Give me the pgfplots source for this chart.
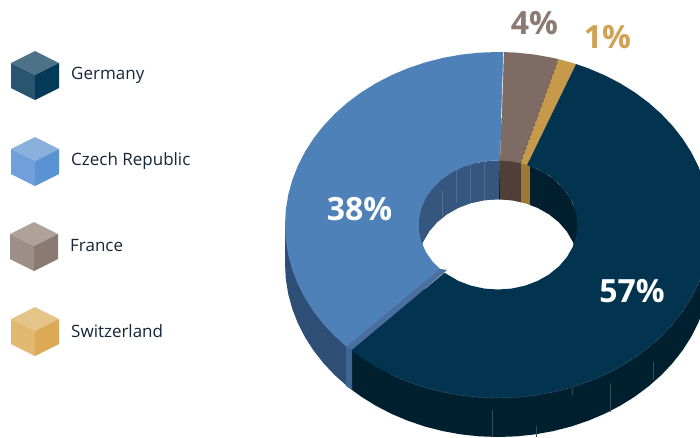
\documentclass[border=0pt]{standalone}
\usepackage{fontspec}
\setmainfont{Open Sans}
\usepackage{pgfplots}
\pgfplotsset{compat=1.18}
\definecolor{bluetop}{HTML}{4F81B9}
\definecolor{navytop}{HTML}{02344F}
\definecolor{browntop}{HTML}{7E6C64}
\definecolor{goldtop}{HTML}{C69A4A}
\definecolor{bluewall}{HTML}{2E4E76}
\definecolor{navywall}{HTML}{00202F}
\definecolor{blueinner}{HTML}{34567F}
\definecolor{browninner}{HTML}{4F3F38}
\definecolor{goldinner}{HTML}{9C7A36}
\definecolor{navyinner}{HTML}{011F2E}
\definecolor{stripA}{HTML}{4B6F9F}
\definecolor{stripB}{HTML}{3F6594}
\definecolor{lbl}{HTML}{15253A}
\definecolor{cgt}{HTML}{4D7186}
\definecolor{cgl}{HTML}{2A5570}
\definecolor{cgr}{HTML}{023A58}
\definecolor{cbt}{HTML}{8AB0DD}
\definecolor{cbl}{HTML}{70A0DA}
\definecolor{cbr}{HTML}{5A93D3}
\definecolor{cft}{HTML}{AEA29B}
\definecolor{cfl}{HTML}{9D8F88}
\definecolor{cfr}{HTML}{8B7A72}
\definecolor{cst}{HTML}{E5C48A}
\definecolor{csl}{HTML}{E0B870}
\definecolor{csr}{HTML}{DCA954}
\begin{document}
\begin{tikzpicture}
\useasboundingbox (0,0) rectangle (700pt,437pt);
% ---------- donut: x=(px-498)/213, y=(225-py)/173, polar data in these units
\begin{axis}[at={(0,0)},anchor=south west,scale only axis,width=700pt,height=437pt,
  hide axis,xmin=-2.338,xmax=0.9484,ymin=-1.2254,ymax=1.3006,clip=true]
% outer walls (bottom ellipse, shifted)
\addplot[fill=bluewall,draw=none,data cs=polar,yshift=-39pt] coordinates {(0,0)(100,1)(105,1)(110,1)(115,1)(120,1)(125,1)(130,1)(135,1)(140,1)(145,1)(150,1)(155,1)(160,1)(165,1)(170,1)(175,1)(180,1)(185,1)(190,1)(195,1)(200,1)(205,1)(210,1)(215,1)(220,1)(225,1)};
\addplot[fill=bluewall,draw=none] coordinates {(-1,0)(-1,-.2254)(-.8,-.2254)(-.8,0)};
\addplot[fill=navywall,draw=none,data cs=polar,yshift=-39pt] coordinates {(0,0)(226.5,1)(230,1)(235,1)(240,1)(245,1)(250,1)(255,1)(260,1)(265,1)(270,1)(275,1)(280,1)(285,1)(290,1)(295,1)(300,1)(305,1)(310,1)(315,1)(320,1)(325,1)(330,1)(335,1)(340,1)(345,1)(350,1)(355,1)(360,1)(365,1)(370,1)(375,1)(380,1)(385,1)(390,1)(395,1)(400,1)};
\addplot[fill=navywall,draw=none] coordinates {(-.6854,-.7225)(-.6854,-.95)(-.4,-1.0)(-.4,-.5)};
\addplot[fill=stripB,draw=none] coordinates {(-.7136,-.7052)(-.6854,-.7225)(-.6854,-.9538)(-.7136,-.9306)};
% faint seams on the navy wall
\addplot[draw=navywall!80!white,line width=.5pt] coordinates {(.526,-.913)(.526,-1.081)};
\addplot[draw=navywall!80!white,line width=.5pt] coordinates {(.728,-.792)(.728,-.896)};
\addplot[draw=navywall!80!white,line width=.5pt] coordinates {(.178,-1.162)(.178,-1.225)};
\addplot[draw=navywall!80!white,line width=.5pt] coordinates {(.347,-.942)(.347,-.983)};
\addplot[draw=navywall!80!white,line width=.5pt] coordinates {(-.028,-1.069)(-.028,-1.225)};
% inner wall, seen through the hole
\addplot[fill=navyinner,draw=none,data cs=polar] coordinates {(0,0)(-135,.373)(-125,.373)(-115,.373)(-105,.373)(-95,.373)(-85,.373)(-75,.373)(-65,.373)(-55,.373)(-45,.373)(-35,.373)(-25,.373)(-15,.373)(-5,.373)(5,.373)(15,.373)(25,.373)(35,.373)(45,.373)(55,.373)(65,.373)(75,.373)(85,.373)(90,.373)};
\addplot[fill=blueinner,draw=none,data cs=polar] coordinates {(0,0)(88.5,.373)(95,.373)(105,.373)(115,.373)(125,.373)(135,.373)(145,.373)(155,.373)(165,.373)(175,.373)(185,.373)(195,.373)(205,.373)(215,.373)(225,.373)};
\addplot[fill=browninner,draw=none] coordinates {(.0094,0)(.108,0)(.108,.40)(.0094,.40)};
\addplot[fill=goldinner,draw=none] coordinates {(.108,0)(.1502,0)(.1502,.40)(.108,.40)};
\addplot[draw=blueinner!85!white,line width=.5pt] coordinates {(-.263,.2)(-.263,.05)};
\addplot[draw=blueinner!85!white,line width=.5pt] coordinates {(-.197,.38)(-.197,.13)};
\addplot[draw=blueinner!85!white,line width=.5pt] coordinates {(-.131,.38)(-.131,.14)};
\addplot[draw=blueinner!85!white,line width=.5pt] coordinates {(-.0657,.38)(-.0657,.14)};
% the opening: lower edge of the hole
\addplot[fill=white,draw=none,data cs=polar,yshift=-39pt] coordinates {(0,.373)(10,.373)(20,.373)(30,.373)(40,.373)(50,.373)(60,.373)(70,.373)(80,.373)(90,.373)(100,.373)(110,.373)(120,.373)(130,.373)(140,.373)(150,.373)(160,.373)(170,.373)(180,.373)(190,.373)(200,.373)(210,.373)(220,.373)(230,.373)(240,.373)(250,.373)(260,.373)(270,.373)(280,.373)(290,.373)(300,.373)(310,.373)(320,.373)(330,.373)(340,.373)(350,.373)};
% top faces: 38 %, 4 %, 1 %, 57 %
\addplot[fill=bluetop,draw=none,data cs=polar] coordinates {(88.5,1)(90,1)(95,1)(100,1)(105,1)(110,1)(115,1)(120,1)(125,1)(130,1)(135,1)(140,1)(145,1)(150,1)(155,1)(160,1)(165,1)(170,1)(175,1)(180,1)(185,1)(190,1)(195,1)(200,1)(205,1)(210,1)(215,1)(220,1)(225,1)(225,.373)(215,.373)(205,.373)(195,.373)(185,.373)(175,.373)(165,.373)(155,.373)(145,.373)(135,.373)(125,.373)(115,.373)(105,.373)(95,.373)(88.5,.373)};
\addplot[fill=stripA,draw=none] coordinates {(-.7136,-.7052)(-.6854,-.7225)(-.2394,-.26)(-.2723,-.2543)};
\addplot[fill=browntop,draw=none,data cs=polar] coordinates {(88.5,1)(85,1)(80,1)(75,1)(73.5,1)(73.5,.373)(80,.373)(88.5,.373)};
\addplot[fill=goldtop,draw=none,data cs=polar] coordinates {(73.5,1)(70,1)(68.5,1)(68.5,.373)(73.5,.373)};
\addplot[fill=navytop,draw=none,data cs=polar] coordinates {(226.5,1)(230,1)(235,1)(240,1)(245,1)(250,1)(255,1)(260,1)(265,1)(270,1)(275,1)(280,1)(285,1)(290,1)(295,1)(300,1)(305,1)(310,1)(315,1)(320,1)(325,1)(330,1)(335,1)(340,1)(345,1)(350,1)(355,1)(360,1)(365,1)(370,1)(375,1)(380,1)(385,1)(390,1)(395,1)(400,1)(405,1)(410,1)(415,1)(420,1)(425,1)(428.5,1)(428.5,.373)(420,.373)(410,.373)(400,.373)(390,.373)(380,.373)(370,.373)(360,.373)(350,.373)(340,.373)(330,.373)(320,.373)(310,.373)(300,.373)(290,.373)(280,.373)(270,.373)(260,.373)(250,.373)(240,.373)(227.7,.373)};
% fine edges
\addplot[draw=white!85!bluetop,line width=.6pt,data cs=polar] coordinates {(88.5,1)(88.5,.62)};
\addplot[draw=browninner,line width=.4pt,densely dashed,data cs=polar] coordinates {(73.5,.98)(73.5,.373)};
\addplot[draw=navytop!60!white,line width=.5pt,densely dotted,data cs=polar] coordinates {(240,1)(245,1)(250,1)(255,1)(260,1)(265,1)(270,1)(275,1)(280,1)(285,1)(290,1)(295,1)(300,1)(305,1)(310,1)(315,1)(320,1)(325,1)(330,1)(335,1)(340,1)(345,1)};
\end{axis}
% ---------- legend and labels, in reference pixels
\begin{axis}[at={(0,0)},anchor=south west,scale only axis,width=700pt,height=437pt,
  hide axis,xmin=0,xmax=700,ymin=0,ymax=437,y dir=reverse,clip=false]
\addplot[fill=cgt,draw=none] coordinates {(35,51)(59,63)(35,75)(11,63)};
\addplot[fill=cgl,draw=none] coordinates {(11,63)(35,75)(35,100)(11,88)};
\addplot[fill=cgr,draw=none] coordinates {(35,75)(59,63)(59,88)(35,100)};
\addplot[fill=cbt,draw=none] coordinates {(35,137)(59,149)(35,161)(11,149)};
\addplot[fill=cbl,draw=none] coordinates {(11,149)(35,161)(35,186)(11,174)};
\addplot[fill=cbr,draw=none] coordinates {(35,161)(59,149)(59,174)(35,186)};
\addplot[fill=cft,draw=none] coordinates {(34,222)(58,234)(34,246)(10,234)};
\addplot[fill=cfl,draw=none] coordinates {(10,234)(34,246)(34,271)(10,259)};
\addplot[fill=cfr,draw=none] coordinates {(34,246)(58,234)(58,259)(34,271)};
\addplot[fill=cst,draw=none] coordinates {(35,307)(59,319)(35,331)(11,319)};
\addplot[fill=csl,draw=none] coordinates {(11,319)(35,331)(35,356)(11,344)};
\addplot[fill=csr,draw=none] coordinates {(35,331)(59,319)(59,344)(35,356)};
\node[anchor=west,inner sep=0pt,text=lbl,font=\fontsize{17}{17}\selectfont] at (axis cs:71,75.5) {Germany};
\node[anchor=west,inner sep=0pt,text=lbl,font=\fontsize{17}{17}\selectfont] at (axis cs:71,161.5) {Czech Republic};
\node[anchor=west,inner sep=0pt,text=lbl,font=\fontsize{17}{17}\selectfont] at (axis cs:70,245.5) {France};
\node[anchor=west,inner sep=0pt,text=lbl,font=\fontsize{17}{17}\selectfont] at (axis cs:71,331.5) {Switzerland};
\node[text=white,inner sep=0pt,font=\fontsize{32}{32}\selectfont\bfseries] at (axis cs:359.5,209) {38\%};
\node[text=white,inner sep=0pt,font=\fontsize{32}{32}\selectfont\bfseries] at (axis cs:632,291) {57\%};
\node[text=browntop!90!white,inner sep=0pt,font=\fontsize{32}{32}\selectfont\bfseries] at (axis cs:534.5,23) {4\%};
\node[text=goldtop!90!orange!90!white,inner sep=0pt,font=\fontsize{32}{32}\selectfont\bfseries] at (axis cs:607.5,37.5) {1\%};
\end{axis}
\end{tikzpicture}
\end{document}
